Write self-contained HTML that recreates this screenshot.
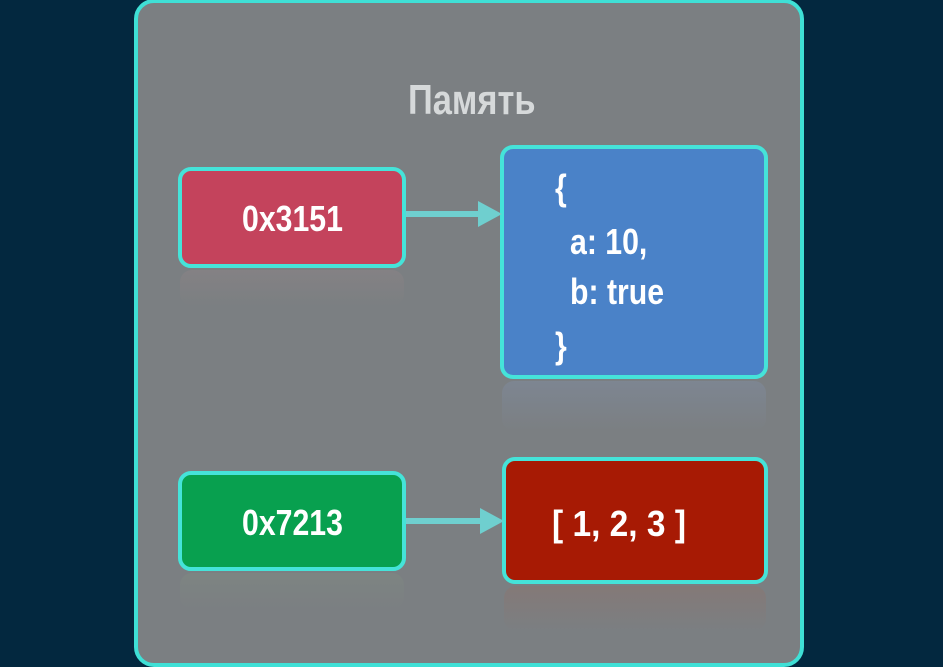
<!DOCTYPE html>
<html><head><meta charset="utf-8"><style>
html,body{margin:0;padding:0}
body{width:943px;height:665px;background:#03283f;position:relative;overflow:hidden;font-family:"Liberation Sans Narrow","Liberation Sans",sans-serif;}
.panel{position:absolute;left:134px;top:-1px;width:662px;height:660px;border:4px solid #3fe0d6;border-radius:20px;background:#7b7f82;}
.box{position:absolute;border:4px solid #45e3d9;border-radius:13px;box-sizing:border-box;color:#fff;font-weight:bold;}
.t{position:absolute;font-weight:bold;color:#fff;font-size:36px;transform:scaleX(0.84);transform-origin:left top;white-space:nowrap;line-height:1}
.title{position:absolute;left:0;width:943px;top:79px;text-align:center;color:#d6d9da;font-weight:bold;font-size:42px;line-height:1}
.title span{display:inline-block;transform:scaleX(0.82)}
.refl{position:absolute;border-radius:12px;background:linear-gradient(#8a8385,rgba(123,127,130,0));opacity:.6}
</style></head><body>
<div class="panel"></div>
<div class="title"><span>Память</span></div>

<div class="refl" style="left:180px;top:270px;width:224px;height:36px"></div>
<div class="refl" style="left:502px;top:381px;width:264px;height:50px;background:linear-gradient(#7f8a9c,rgba(123,127,130,0))"></div>
<div class="refl" style="left:180px;top:573px;width:224px;height:36px;background:linear-gradient(#7f8882,rgba(123,127,130,0))"></div>
<div class="refl" style="left:504px;top:586px;width:262px;height:45px;background:linear-gradient(#8a7570,rgba(123,127,130,0))"></div>

<div class="box" style="left:178px;top:167px;width:228px;height:101px;background:#c4435c"></div>
<div class="t" style="left:242px;top:201px">0x3151</div>

<div class="box" style="left:500px;top:145px;width:268px;height:234px;background:#4a82c8"></div>
<div class="t" style="left:555px;top:170px">{</div>
<div class="t" style="left:570px;top:224px">a: 10,</div>
<div class="t" style="left:570px;top:274px">b: true</div>
<div class="t" style="left:555px;top:328px">}</div>

<div class="box" style="left:178px;top:471px;width:228px;height:100px;background:#08a04f"></div>
<div class="t" style="left:242px;top:505px">0x7213</div>

<div class="box" style="left:502px;top:457px;width:266px;height:127px;background:#a71a04"></div>
<div class="t" style="left:552px;top:506px;transform:scaleX(0.93)">[ 1, 2, 3 ]</div>

<svg width="943" height="665" style="position:absolute;left:0;top:0">
<g fill="#6fcfcf">
<rect x="406" y="211" width="74" height="6"/><polygon points="478,201 502,214 478,227"/></g>
<g fill="#6fcfcf">
<rect x="406" y="518" width="76" height="6"/><polygon points="480,508 504,521 480,534"/></g>
</svg>
</body></html>
